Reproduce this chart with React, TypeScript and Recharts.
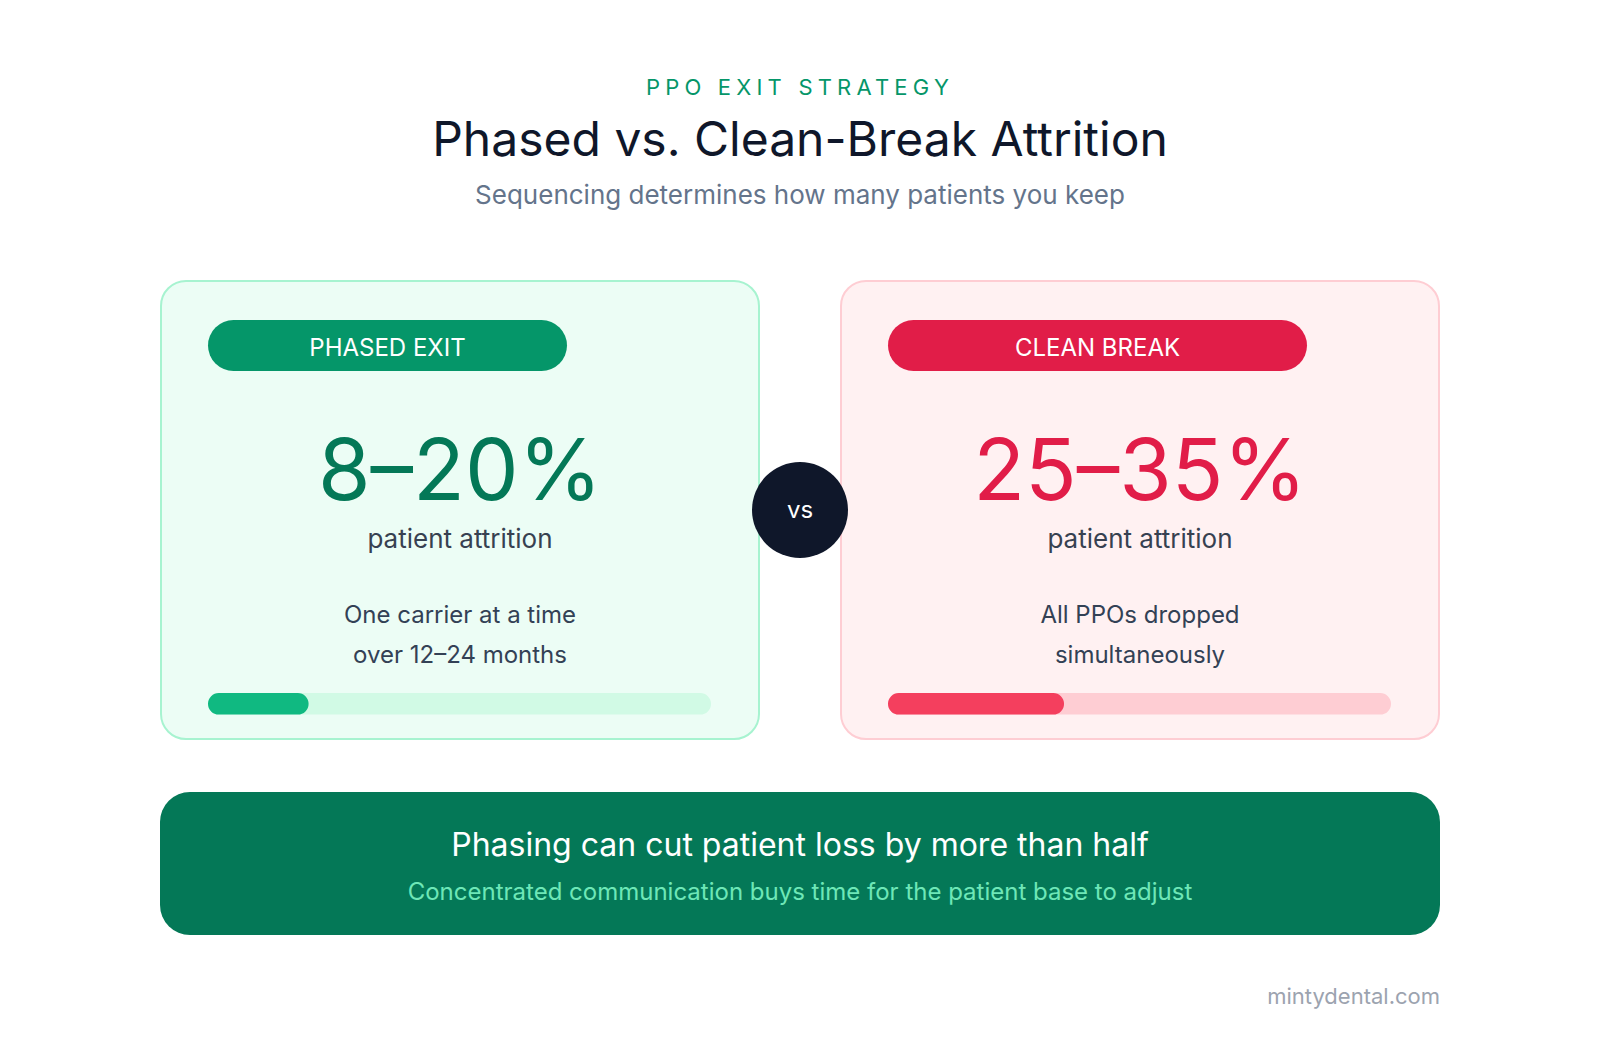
import { BarChart, Bar, XAxis, YAxis } from 'recharts';

// the two exit approaches and their attrition ranges (%)
const strategies = ['PHASED EXIT', 'CLEAN BREAK'];
const attritionLow = [8, 25];
const attritionHigh = [20, 35];
const descriptions = [
  ['One carrier at a time', 'over 12–24 months'],
  ['All PPOs dropped', 'simultaneously'],
];

const themes = [
  {
    card: '#ecfdf5',
    border: '#a7f3d0',
    pill: '#059669',
    number: '#047857',
    bar: '#10b981',
    track: '#d1fae5',
    pillWidth: 359,
  },
  {
    card: '#fff1f2',
    border: '#fecdd3',
    pill: '#e11d48',
    number: '#e11d48',
    bar: '#f43f5e',
    track: '#fecdd3',
    pillWidth: 419,
  },
];

const FONT = 'Inter, "Noto Sans", sans-serif';

function Text({ x, y, w, size, color, children, weight = 400, spacing = 0 }: any) {
  return (
    <div
      style={{
        position: 'absolute',
        left: x,
        top: y - size,
        width: w,
        height: size * 2,
        lineHeight: `${size * 2}px`,
        fontSize: size,
        fontWeight: weight,
        color,
        letterSpacing: spacing,
        textAlign: 'center',
        whiteSpace: 'nowrap',
      }}
    >
      {children}
    </div>
  );
}

function AttritionBar({ value, theme }: any) {
  const data = [{ name: 'attrition', value }];
  return (
    <BarChart
      width={503}
      height={24}
      data={data}
      layout="vertical"
      margin={{ top: 0, right: 0, bottom: 0, left: 0 }}
    >
      <XAxis type="number" domain={[0, 100]} hide />
      <YAxis type="category" dataKey="name" hide />
      <Bar
        dataKey="value"
        fill={theme.bar}
        barSize={24}
        radius={12}
        background={{ fill: theme.track, radius: 12 } as any}
        isAnimationActive={false}
      />
    </BarChart>
  );
}

function Card({ index }: { index: number }) {
  const t = themes[index];
  const left = index === 0 ? 160 : 840;
  return (
    <div
      style={{
        position: 'absolute',
        left,
        top: 280,
        width: 600,
        height: 460,
        boxSizing: 'border-box',
        background: t.card,
        border: `2px solid ${t.border}`,
        borderRadius: 26,
      }}
    >
      <div
        style={{
          position: 'absolute',
          left: 46,
          top: 38,
          width: t.pillWidth,
          height: 51,
          borderRadius: 26,
          background: t.pill,
        }}
      >
        <Text x={0} y={28} w={t.pillWidth} size={24} color="#ffffff">
          {strategies[index]}
        </Text>
      </div>
      <Text x={-2} y={188} w={600} size={85} color={t.number} weight={400}>
        {`${attritionLow[index]}–${attritionHigh[index]}%`}
      </Text>
      <Text x={-2} y={257} w={600} size={26} color="#374151">
        patient attrition
      </Text>
      <Text x={-2} y={333} w={600} size={24} color="#334155">
        {descriptions[index][0]}
      </Text>
      <Text x={-2} y={373} w={600} size={24} color="#334155">
        {descriptions[index][1]}
      </Text>
      <div style={{ position: 'absolute', left: 46, top: 410 }}>
        <AttritionBar value={attritionHigh[index]} theme={t} />
      </div>
    </div>
  );
}

export default function App() {
  return (
    <div
      style={{
        position: 'absolute',
        left: 0,
        top: 0,
        width: 1600,
        height: 1040,
        background: '#ffffff',
        fontFamily: FONT,
        overflow: 'hidden',
      }}
    >
      <Text x={0} y={87} w={1600} size={22} color="#059669" spacing={5.2}>
        PPO EXIT STRATEGY
      </Text>
      <Text x={0} y={139} w={1600} size={48} color="#0f172a" weight={400}>
        Phased vs. Clean-Break Attrition
      </Text>
      <Text x={0} y={195} w={1600} size={26} color="#64748b">
        Sequencing determines how many patients you keep
      </Text>

      <Card index={0} />
      <Card index={1} />

      <div
        style={{
          position: 'absolute',
          left: 752,
          top: 462,
          width: 96,
          height: 96,
          borderRadius: 48,
          background: '#0f172a',
        }}
      >
        <Text x={0} y={48} w={96} size={24} color="#ffffff">
          vs
        </Text>
      </div>

      <div
        style={{
          position: 'absolute',
          left: 160,
          top: 792,
          width: 1280,
          height: 143,
          borderRadius: 30,
          background: '#047857',
        }}
      >
        <Text x={0} y={53} w={1280} size={32} color="#ffffff">
          Phasing can cut patient loss by more than half
        </Text>
        <Text x={0} y={100} w={1280} size={24} color="#6ee7b7">
          Concentrated communication buys time for the patient base to adjust
        </Text>
      </div>

      <div
        style={{
          position: 'absolute',
          right: 160,
          top: 996 - 22,
          height: 44,
          lineHeight: '44px',
          fontSize: 22,
          color: '#9ca3af',
          whiteSpace: 'nowrap',
        }}
      >
        mintydental.com
      </div>
    </div>
  );
}
